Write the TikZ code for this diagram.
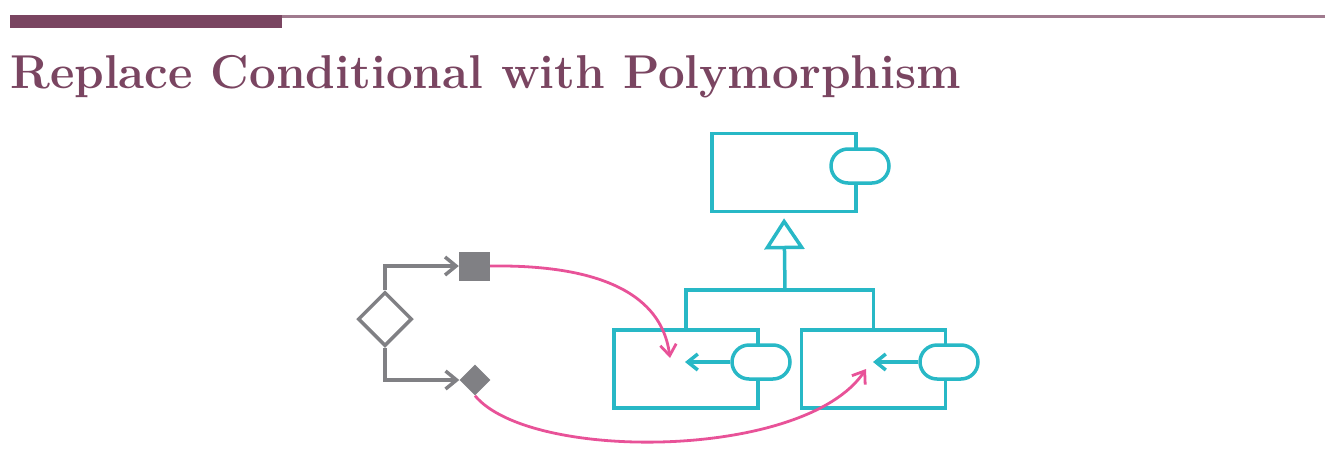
\documentclass[tikz,border=0pt]{standalone}
\usetikzlibrary{shapes.geometric,arrows.meta}

\definecolor{plum}{RGB}{122,69,97}
\definecolor{lightplum}{RGB}{160,122,142}
\definecolor{umlcyan}{RGB}{40,184,198}
\definecolor{flowgray}{RGB}{128,128,132}
\definecolor{hotpink}{RGB}{232,82,152}

\tikzset{
  classbox/.style={draw=umlcyan,line width=3.5pt,minimum width=144pt,minimum height=78pt},
  opbox/.style={draw=umlcyan,fill=white,line width=3.5pt,rounded corners=17pt,minimum width=58pt,minimum height=34pt},
  uml/.style={draw=umlcyan,line width=3.5pt},
  flow/.style={draw=flowgray,line width=3.5pt,-{Straight Barb[length=11pt,width=18pt,line width=3.5pt]}},
  dispatch/.style={draw=hotpink,line width=2.8pt,-{Straight Barb[length=11pt,width=16pt,line width=2.8pt]}}
}

\begin{document}
\begin{tikzpicture}[x=1pt,y=-1pt]
\useasboundingbox (0,0) rectangle (1336,472);

\fill[plum] (10,15) rectangle (282,28);
\fill[lightplum] (282,15) rectangle (1325,18);
\node[anchor=base west,text=plum,inner sep=0pt,font=\fontsize{47.5}{56}\selectfont\bfseries] (title) at (10,88) {Replace Conditional with Polymorphism};

\node[classbox] (super) at (784,172.5) {};
\node[opbox] (superop) at (860,166) {};
\node[classbox] (subA) at (686,369) {};
\node[opbox] (subAop) at (761,362) {};
\node[classbox] (subB) at (873.5,369) {};
\node[opbox] (subBop) at (949,362) {};
\coordinate (fork) at (785,290);
\coordinate (subAin) at (685,362);
\coordinate (subBin) at (873,362);
\coordinate (subAhit) at (670,358);
\coordinate (subBhit) at (866,369);

\draw[uml,-{Triangle[open,length=31pt,width=40pt,line width=3.5pt]},shorten >=5pt] (fork) -- (super.south);
\draw[uml] (subA.north) |- (fork) -| (subB.north);
\draw[uml,-{Straight Barb[length=10pt,width=16pt,line width=3.5pt]}] (subAop.west) -- (subAin);
\draw[uml,-{Straight Barb[length=10pt,width=16pt,line width=3.5pt]}] (subBop.west) -- (subBin);

\node[draw=flowgray,line width=3.5pt,diamond,aspect=1,inner sep=0pt,minimum size=54pt,fill=white] (cond) at (385,319) {};
\node[fill=flowgray,minimum width=31pt,minimum height=29pt,inner sep=0pt] (caseA) at (474.5,266) {};
\node[fill=flowgray,diamond,aspect=1,inner sep=0pt,minimum size=31pt] (caseB) at (475,380) {};

\draw[flow] (cond.north) |- (caseA.west);
\draw[flow] (cond.south) |- (caseB.west);

\draw[dispatch] (caseA.east) .. controls (640,264) and (665,320) .. (subAhit);
\draw[dispatch] (caseB.south) .. controls (530,462) and (805,460) .. (subBhit);
\end{tikzpicture}
\end{document}
